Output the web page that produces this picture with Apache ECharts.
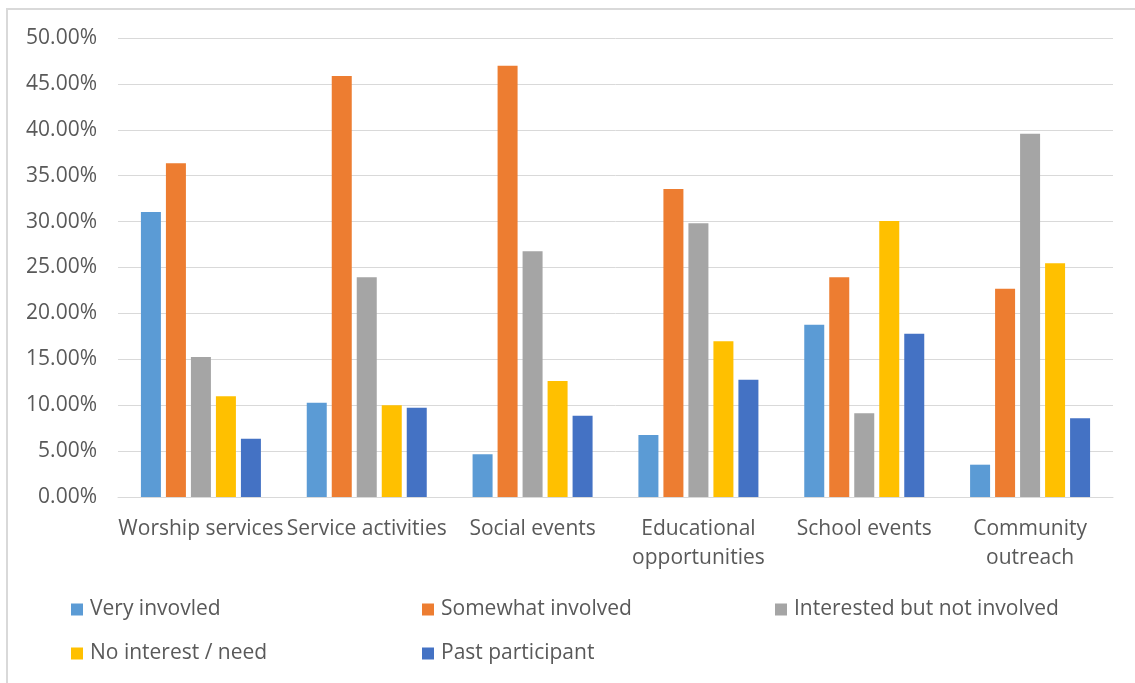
<!DOCTYPE html>
<html>
<head>
<meta charset="utf-8">
<script src="https://cdn.jsdelivr.net/npm/echarts@6/dist/echarts.min.js"></script>
<style>
html,body{margin:0;padding:0;background:#fff;}
#chart{width:1135px;height:683px;}
</style>
</head>
<body>
<div id="chart"></div>
<script>
const categories = ['Worship services', 'Service activities', 'Social events', 'Educational\nopportunities', 'School events', 'Community\noutreach'];
const seriesNames = ['Very invovled', 'Somewhat involved', 'Interested but not involved', 'No interest / need', 'Past participant'];
const veryInvolved = [31.05, 10.28, 4.65, 6.75, 18.77, 3.52];
const somewhatInvolved = [36.35, 45.86, 46.99, 33.55, 23.93, 22.69];
const interestedNotInvolved = [15.25, 23.93, 26.76, 29.81, 9.11, 39.58];
const noInterest = [10.97, 9.99, 12.64, 16.96, 30.07, 25.45];
const pastParticipant = [6.35, 9.73, 8.86, 12.78, 17.79, 8.57];
const yTicks = { min: 0, max: 50, interval: 5 };

const colors = ['#5B9BD5', '#ED7D31', '#A5A5A5', '#FFC000', '#4472C4'];
const values = [veryInvolved, somewhatInvolved, interestedNotInvolved, noInterest, pastParticipant];
const FONT = 'Open Sans';
const TXT = '#595959';
const FS = 21;

const legendPos = [
  { left: 71, top: 599 },
  { left: 422, top: 599 },
  { left: 775, top: 599 },
  { left: 71, top: 643 },
  { left: 422, top: 643 }
];

const chart = echarts.init(document.getElementById('chart'));
chart.setOption({
  animation: false,
  backgroundColor: '#fff',
  color: colors,
  graphic: [{
    type: 'rect',
    shape: { x: 7, y: 9, width: 1300, height: 900 },
    style: { fill: 'none', stroke: '#d9d9d9', lineWidth: 2 },
    silent: true
  }],
  grid: { left: 118, right: 22, top: 38, bottom: 186, containLabel: false },
  legend: seriesNames.map((n, i) => ({
    data: [n],
    left: legendPos[i].left,
    top: legendPos[i].top,
    itemWidth: 12,
    itemHeight: 12,
    icon: 'rect',
    padding: 0,
    textStyle: { color: TXT, fontFamily: FONT, fontSize: FS, padding: [0, 0, 0, 2] }
  })),
  xAxis: {
    type: 'category',
    data: categories,
    axisLine: { lineStyle: { color: '#d9d9d9', width: 1 } },
    axisTick: { show: false },
    axisLabel: {
      color: TXT, fontFamily: FONT, fontSize: FS, lineHeight: 29, margin: 18, interval: 0
    }
  },
  yAxis: {
    type: 'value',
    min: yTicks.min, max: yTicks.max, interval: yTicks.interval,
    axisLine: { show: false },
    axisTick: { show: false },
    splitLine: { lineStyle: { color: '#d9d9d9', width: 1 } },
    axisLabel: {
      color: TXT, fontFamily: FONT, fontSize: FS, margin: 21,
      formatter: v => v.toFixed(2) + '%'
    }
  },
  series: seriesNames.map((n, i) => ({
    name: n,
    type: 'bar',
    data: values[i],
    barWidth: 20,
    barGap: '25%',
    itemStyle: { color: colors[i] }
  }))
});
</script>
</body>
</html>
